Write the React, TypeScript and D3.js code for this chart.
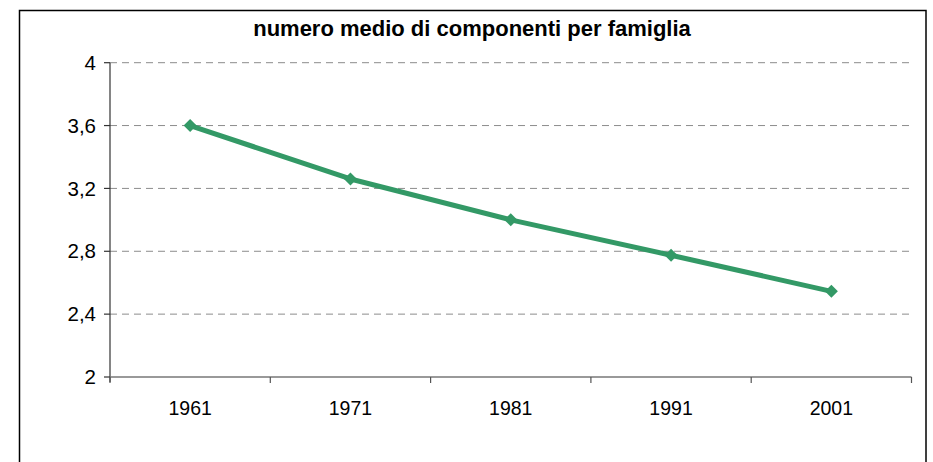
import React from "react";
import * as d3 from "d3";

const categories = ["1961", "1971", "1981", "1991", "2001"];
const values = [3.6, 3.26, 3.0, 2.775, 2.545];
const yTicks = [2, 2.4, 2.8, 3.2, 3.6, 4];
const title = "numero medio di componenti per famiglia";

const W = 933;
const H = 462;
const left = 110;
const right = 911.5;
const top = 62.7;
const bottom = 377;

export default function App() {
  const x = d3.scaleBand<string>().domain(categories).range([left, right]).padding(0);
  const y = d3.scaleLinear().domain([2, 4]).range([bottom, top]);
  const line = d3
    .line<number>()
    .x((_, i) => (x(categories[i]) as number) + x.bandwidth() / 2)
    .y((d) => y(d));
  const fmt = (v: number) => String(v).replace(".", ",");
  const green = "#339966";
  const font = "'Liberation Sans', Arial, sans-serif";
  const boundaries = categories.map((c) => x(c) as number).concat([right]);
  return (
    <svg
      width={W}
      height={H}
      style={{ position: "absolute", left: 0, top: 0, display: "block", background: "#fff" }}
    >
      <rect x={19.5} y={10.5} width={906.5} height={470} fill="#fff" stroke="#000" strokeWidth={1.5} />
      <text x={472} y={36} textAnchor="middle" fontFamily={font} fontWeight="bold" fontSize={22} fill="#000">
        {title}
      </text>
      {yTicks
        .filter((t) => t !== 2)
        .map((t) => (
          <line
            key={"g" + t}
            x1={left}
            x2={right}
            y1={y(t)}
            y2={y(t)}
            stroke="#8c8c8c"
            strokeWidth={1}
            strokeDasharray="7,5"
          />
        ))}
      <line x1={left} x2={left} y1={top} y2={bottom + 5} stroke="#333" strokeWidth={1.2} />
      {yTicks.map((t) => (
        <g key={"t" + t}>
          <line x1={left - 6} x2={left} y1={y(t)} y2={y(t)} stroke="#333" strokeWidth={1.2} />
          <text x={96} y={y(t)} dy="0.35em" textAnchor="end" fontFamily={font} fontSize={20.5} fill="#000">
            {fmt(t)}
          </text>
        </g>
      ))}
      <line x1={left} x2={right} y1={bottom} y2={bottom} stroke="#777" strokeWidth={1.5} />
      {boundaries.map((b, i) => (
        <line key={"xb" + i} x1={b} x2={b} y1={bottom} y2={bottom + 6} stroke="#555" strokeWidth={1.2} />
      ))}
      {categories.map((c) => (
        <text
          key={"xl" + c}
          x={(x(c) as number) + x.bandwidth() / 2}
          y={408}
          dy="0.35em"
          textAnchor="middle"
          fontFamily={font}
          fontSize={19.5}
          fill="#000"
        >
          {c}
        </text>
      ))}
      <path d={line(values) || ""} fill="none" stroke={green} strokeWidth={5} strokeLinejoin="round" />
      {values.map((v, i) => {
        const cx = (x(categories[i]) as number) + x.bandwidth() / 2;
        const cy = y(v);
        const s = 6.5;
        return (
          <path
            key={"m" + i}
            d={`M${cx},${cy - s}L${cx + s},${cy}L${cx},${cy + s}L${cx - s},${cy}Z`}
            fill={green}
          />
        );
      })}
    </svg>
  );
}
